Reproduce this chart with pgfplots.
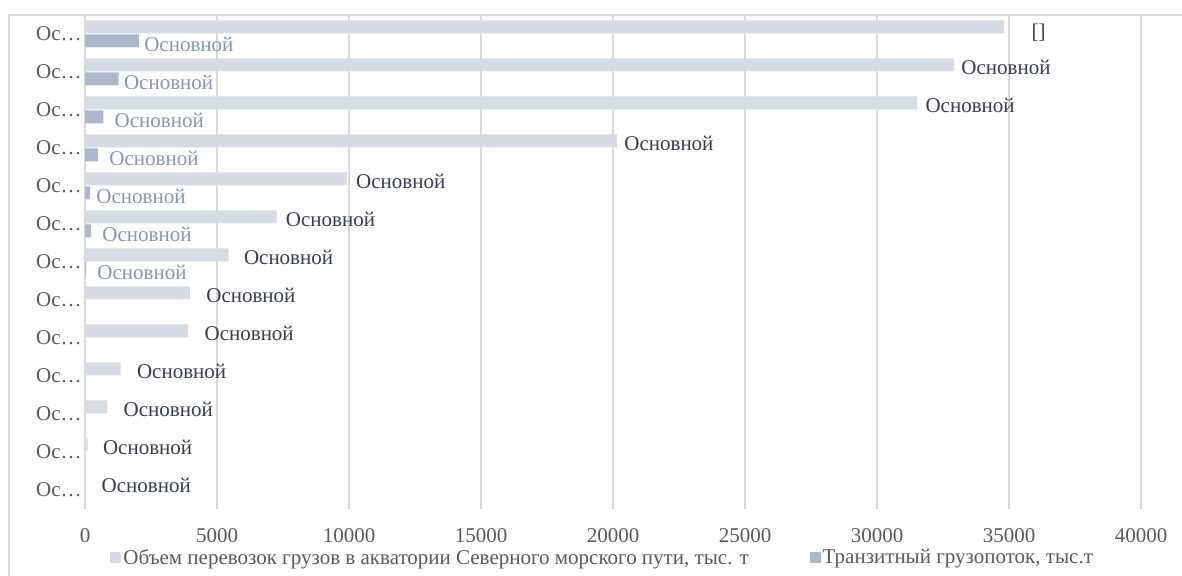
\documentclass[border=0pt]{standalone}
\usepackage{pgfplots}
\pgfplotsset{compat=1.18}
\usepackage{pgfplotstable}
\usepackage{fontspec}
\setmainfont{Liberation Serif}
\definecolor{lightbar}{HTML}{D6DCE5}
\definecolor{darkbar}{HTML}{ADB9CA}
\definecolor{lightlab}{HTML}{333F50}
\definecolor{darklab}{HTML}{8497B0}
\definecolor{ticktxt}{HTML}{595959}
\definecolor{gridc}{HTML}{D9D9D9}

% y: row position (12 = top), x: value, off/dy: label offsets (pt), lab: label
\pgfplotstableread{
y x off dy lab
12 34815 13.5 0.5 {[]}
11 32920 3.5 2.5 Основной
10 31520 4 2.5 Основной
9 20150 3.5 2.5 Основной
8 9915 4.5 2.5 Основной
7 7255 4.5 2.5 Основной
6 5440 7.5 2.5 Основной
5 3975 8 2.5 Основной
4 3910 8 2.5 Основной
3 1350 8 2.5 Основной
2 845 8 2.5 Основной
1 100 7.5 2.5 Основной
0 10 8 2.5 Основной
}\lighttab

\pgfplotstableread{
y x off lab
12 2043 2.5 Основной
11 1275 2.5 Основной
10 694 5.5 Основной
9 492 5.5 Основной
8 190 3 Основной
7 227 5.5 Основной
6 40 5.5 Основной
}\darktab

\begin{document}
\begin{tikzpicture}
\useasboundingbox (0,0) rectangle (591pt,288pt);
\draw[gridc, line width=0.75pt] (4.5pt,-1pt) -- (4.5pt,280.5pt) -- (592pt,280.5pt);
\begin{axis}[
  at={(42.5pt,33.5pt)}, anchor=south west,
  scale only axis, width=528pt, height=247pt,
  font=\fontsize{10.5pt}{12pt}\selectfont,
  xmin=0, xmax=40000, ymin=-0.5, ymax=12.5,
  xtick={0,5000,10000,15000,20000,25000,30000,35000,40000},
  scaled x ticks=false,
  ytick={0,1,2,3,4,5,6,7,8,9,10,11,12},
  yticklabels={Ос…,Ос…,Ос…,Ос…,Ос…,Ос…,Ос…,Ос…,Ос…,Ос…,Ос…,Ос…,Ос…},
  /pgf/number format/assume math mode=true,
  /pgf/number format/1000 sep={},
  major tick length=0pt,
  tick style={draw=none},
  xticklabel style={anchor=north, inner sep=0pt, yshift=-9.5pt, text=ticktxt},
  yticklabel style={anchor=east, inner sep=0pt, xshift=-1.5pt, text=ticktxt},
  xmajorgrids, major grid style={color=gridc, line width=0.75pt},
  axis line style={draw=none},
  clip=false,
  legend columns=2,
  legend style={at={(0.0237,-0.0992)}, anchor=west, draw=none, fill=none,
    inner sep=0pt, text=ticktxt, font=\fontsize{10.5pt}{12pt}\selectfont,
    /tikz/every even column/.append style={column sep=29.5pt},
    nodes={inner sep=1pt}},
  legend image code/.code={\fill[#1] (0pt,-2.75pt) rectangle (5.5pt,2.75pt);},
]
\addplot[xbar, bar width=6.5pt, bar shift=3.5pt, fill=lightbar, draw=none,
  point meta=explicit symbolic,
  visualization depends on={\thisrow{off} \as \myoff},
  visualization depends on={\thisrow{dy} \as \mydy},
  nodes near coords={\pgfplotspointmeta},
  every node near coord/.append style={anchor=west, inner sep=0pt, xshift=\myoff pt, yshift=\mydy pt, text=lightlab, font=\fontsize{10.5pt}{12pt}\selectfont},
] table[x=x, y=y, meta=lab] {\lighttab};
\addlegendentry{Объем перевозок грузов в акватории Северного морского пути, тыс. т}
\addplot[xbar, bar width=6.5pt, bar shift=-3.5pt, fill=darkbar, draw=none,
  point meta=explicit symbolic,
  visualization depends on={\thisrow{off} \as \myoff},
  nodes near coords={\pgfplotspointmeta},
  every node near coord/.append style={anchor=west, inner sep=0pt, xshift=\myoff pt, yshift=-5pt, text=darklab, font=\fontsize{10.5pt}{12pt}\selectfont},
] table[x=x, y=y, meta=lab] {\darktab};
\addlegendentry{Транзитный грузопоток, тыс.т}
\end{axis}
\end{tikzpicture}
\end{document}
